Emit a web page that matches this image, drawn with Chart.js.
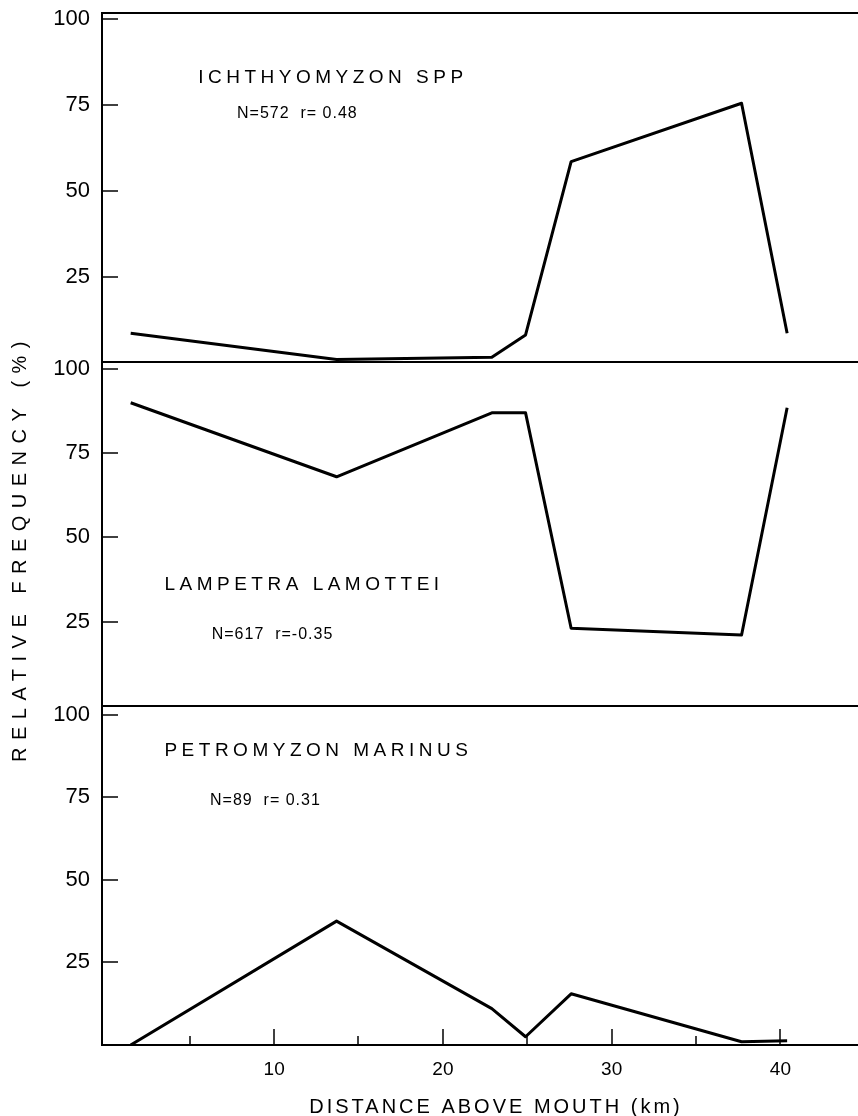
<!DOCTYPE html>
<html>
<head>
<meta charset="utf-8">
<title>Lamprey larvae - relative frequency</title>
<script src="https://cdn.jsdelivr.net/npm/chart.js@4.4.1/dist/chart.umd.min.js"></script>
<style>
  body { margin: 0; background: #fff; }
  canvas { display: block; }
</style>
</head>
<body>
<canvas id="graph-lampreys" width="858" height="1116"></canvas>
<script>
// Data
const stationsKm = [1.5, 13.7, 22.9, 24.9, 27.6, 37.7, 40.4];
const ichthyomyzonPct = [8.5, 0.8, 1.5, 8, 58.5, 75.5, 8.5];
const lampetraPct = [90, 68, 87, 87, 23, 21, 88.5];
const petromyzonPct = [0, 37.5, 11, 2.5, 15.5, 1, 1.3];

const speciesNames = ["ICHTHYOMYZON SPP", "LAMPETRA LAMOTTEI", "PETROMYZON MARINUS"];
const speciesStats = ["N=572  r= 0.48", "N=617  r=-0.35", "N=89  r= 0.31"];
const yTickValues = [25, 50, 75, 100];
const xTickValues = [5, 10, 15, 20, 25, 30, 35, 40];
const xTitle = "DISTANCE ABOVE MOUTH (km)";
const yTitle = "RELATIVE FREQUENCY (%)";

const FONT = "'Liberation Sans', Arial, sans-serif";
const panelIds = ["y1", "y2", "y3"];
// where the species labels sit, in (km, %) of each panel
const nameAt = [[5.5, 83], [3.5, 36], [3.5, 89]];
const statsAt = [[7.8, 72.5], [6.3, 21], [6.2, 74]];

const toPoints = (values) => values.map((v, i) => ({ x: stationsKm[i], y: v }));

const lineStyle = {
  borderColor: "#000",
  borderWidth: 3,
  pointRadius: 0,
  tension: 0,
  fill: false,
  borderJoinStyle: "round",
};

// no automatic room for overhanging tick labels
const noPadding = (scale) => {
  scale.paddingTop = 0;
  scale.paddingBottom = 0;
  scale.paddingLeft = 0;
  scale.paddingRight = 0;
};

// frames, inward ticks and lettering
const panelDecor = {
  id: "panelDecor",
  afterDraw(chart) {
    const { ctx, chartArea, scales } = chart;
    const { left, right, bottom } = chartArea;
    ctx.save();
    ctx.strokeStyle = "#000";
    ctx.fillStyle = "#000";

    ctx.lineWidth = 2;
    panelIds.forEach((id) => {
      const top = Math.round(scales[id].top);
      ctx.beginPath();
      ctx.moveTo(left, top);
      ctx.lineTo(right, top);
      ctx.stroke();
    });

    ctx.lineWidth = 1.5;
    panelIds.forEach((id) => {
      yTickValues.forEach((v) => {
        const py = Math.round(scales[id].getPixelForValue(v));
        ctx.beginPath();
        ctx.moveTo(left, py);
        ctx.lineTo(left + 16, py);
        ctx.stroke();
      });
    });
    xTickValues.forEach((v) => {
      const px = Math.round(scales.x.getPixelForValue(v));
      const len = v % 10 === 0 ? 16 : 9;
      ctx.beginPath();
      ctx.moveTo(px, bottom);
      ctx.lineTo(px, bottom - len);
      ctx.stroke();
    });

    const write = (text, x, y, size, spacing, align) => {
      ctx.font = size + "px " + FONT;
      ctx.letterSpacing = spacing + "px";
      ctx.textAlign = align;
      ctx.textBaseline = "middle";
      ctx.fillText(text, x, y);
    };

    panelIds.forEach((id, i) => {
      const ys = scales[id];
      write(speciesNames[i], scales.x.getPixelForValue(nameAt[i][0]), ys.getPixelForValue(nameAt[i][1]), 19, 4.5, "left");
      write(speciesStats[i], scales.x.getPixelForValue(statsAt[i][0]), ys.getPixelForValue(statsAt[i][1]), 16, 1, "left");
    });

    write(xTitle, 496, 1107, 20, 3, "center");

    ctx.translate(20, 548);
    ctx.rotate(-Math.PI / 2);
    write(yTitle, 0, 0, 20, 7.5, "center");
    ctx.restore();
  },
};

const panelScale = (max, weight) => ({
  type: "linear",
  position: "left",
  stack: "panels",
  stackWeight: weight,
  min: 0,
  max: max,
  grid: { display: false, drawTicks: false },
  border: { display: true, color: "#000", width: 2 },
  ticks: {
    stepSize: 25,
    includeBounds: false,
    padding: 12,
    color: "#000",
    font: { family: FONT, size: 22 },
    callback: (v) => (yTickValues.includes(v) ? String(v) : ""),
  },
  afterFit: (scale) => {
    scale.width = 102;
    noPadding(scale);
  },
});

const graph = document.getElementById("graph-lampreys").getContext("2d");
const lampreyChart = new Chart(graph, {
  type: "line",
  data: {
    datasets: [
      { label: speciesNames[0], data: toPoints(ichthyomyzonPct), yAxisID: "y1", ...lineStyle },
      { label: speciesNames[1], data: toPoints(lampetraPct), yAxisID: "y2", ...lineStyle },
      { label: speciesNames[2], data: toPoints(petromyzonPct), yAxisID: "y3", ...lineStyle },
    ],
  },
  options: {
    responsive: false,
    animation: false,
    devicePixelRatio: 1,
    layout: { padding: { top: 13, left: 0, right: 0, bottom: 0 } },
    plugins: { legend: { display: false }, tooltip: { enabled: false } },
    scales: {
      x: {
        type: "linear",
        position: "bottom",
        min: -0.2,
        max: 44.6,
        grid: { display: false, drawTicks: false },
        border: { display: true, color: "#000", width: 2 },
        ticks: {
          stepSize: 5,
          includeBounds: false,
          autoSkip: false,
          maxRotation: 0,
          padding: 13,
          color: "#000",
          font: { family: FONT, size: 19 },
          callback: (v) => (v > 0 && v % 10 === 0 ? String(v) : ""),
        },
        afterFit: (scale) => {
          scale.height = 71;
          noPadding(scale);
        },
      },
      y3: panelScale(102.7, 339),
      y2: panelScale(102, 343),
      y1: panelScale(101.8, 349),
    },
  },
  plugins: [panelDecor],
});
</script>
</body>
</html>
